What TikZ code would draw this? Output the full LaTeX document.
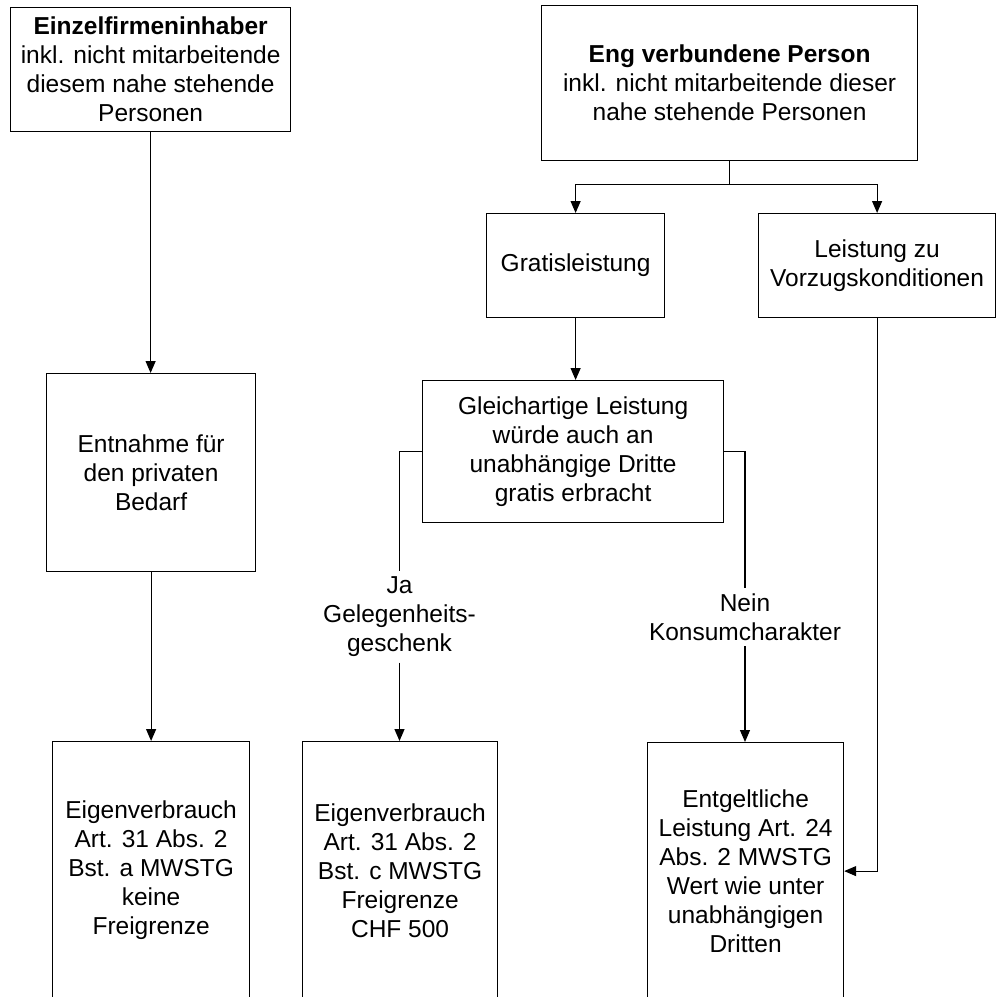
\documentclass[tikz,border=0pt]{standalone}
\usepackage{fontspec}
\setmainfont{Liberation Sans}
\usetikzlibrary{arrows.meta}

\begin{document}
\begin{tikzpicture}[x=1pt, y=-1pt, line width=1.2pt,
    font=\fontsize{24.5}{29}\selectfont,
    box/.style={draw, anchor=north west, inner sep=0pt, align=center},
    lbl/.style={inner sep=5pt, align=center},
    arr/.style={-{Triangle[length=12pt, width=10pt]}}]
    \useasboundingbox (0,0) rectangle (997,997);
    \clip (0,0) rectangle (997,997);

    % Left column
    \node[box, minimum width=280, minimum height=124] (inhaber) at (10,7)
        {\textbf{Einzelfirmeninhaber}\\inkl. nicht mitarbeitende\\diesem nahe stehende\\Personen};
    \node[box, minimum width=209, minimum height=198] (entnahme) at (46,373)
        {Entnahme für\\den privaten\\Bedarf};
    \node[box, minimum width=197, minimum height=258] (eigenA) at (52,741)
        {Eigenverbrauch\\Art. 31 Abs. 2\\Bst. a MWSTG\\keine\\Freigrenze};

    % Right part
    \node[box, minimum width=376, minimum height=155] (person) at (541,5)
        {\textbf{Eng verbundene Person}\\inkl. nicht mitarbeitende dieser\\nahe stehende Personen};
    \node[box, minimum width=178, minimum height=104] (gratis) at (486,213)
        {Gratisleistung};
    \node[box, minimum width=237, minimum height=104] (vorzug) at (758,213)
        {Leistung zu\\Vorzugskonditionen};
    \node[box, minimum width=301, minimum height=142] (gleich) at (422,380)
        {Gleichartige Leistung\\würde auch an\\unabhängige Dritte\\gratis erbracht};
    \node[box, minimum width=195, minimum height=258] (eigenC) at (302,741)
        {Eigenverbrauch\\Art. 31 Abs. 2\\Bst. c MWSTG\\Freigrenze\\CHF 500};
    \node[box, minimum width=196, minimum height=257] (entgelt) at (647,742)
        {Entgeltliche\\Leistung Art. 24\\Abs. 2 MWSTG\\Wert wie unter\\unabhängigen\\Dritten};

    % Branch labels
    \node[lbl] (ja) at (399.5,617) {Ja\\Gelegenheits-\\geschenk};
    \node[lbl] (nein) at (745,617) {Nein\\Konsumcharakter};

    % Arrows
    \draw[arr] (inhaber.south) -- (inhaber.south |- entnahme.north);
    \draw[arr] (entnahme.south) -- (entnahme.south |- eigenA.north);
    \draw[arr] (person.south) -- ++(0,23) -| (gratis.north);
    \draw[arr] (person.south) -- ++(0,23) -| (vorzug.north);
    \draw[arr] (gratis.south) -- (gratis.south |- gleich.north);
    \draw (gleich.west) -| (ja.north);
    \draw[arr] (ja.south) -- (ja.south |- eigenC.north);
    \draw (gleich.east) -| (nein.north);
    \draw[arr] (nein.south) -- (nein.south |- entgelt.north);
    \draw[arr] (vorzug.south) |- (entgelt.east);
\end{tikzpicture}
\end{document}
